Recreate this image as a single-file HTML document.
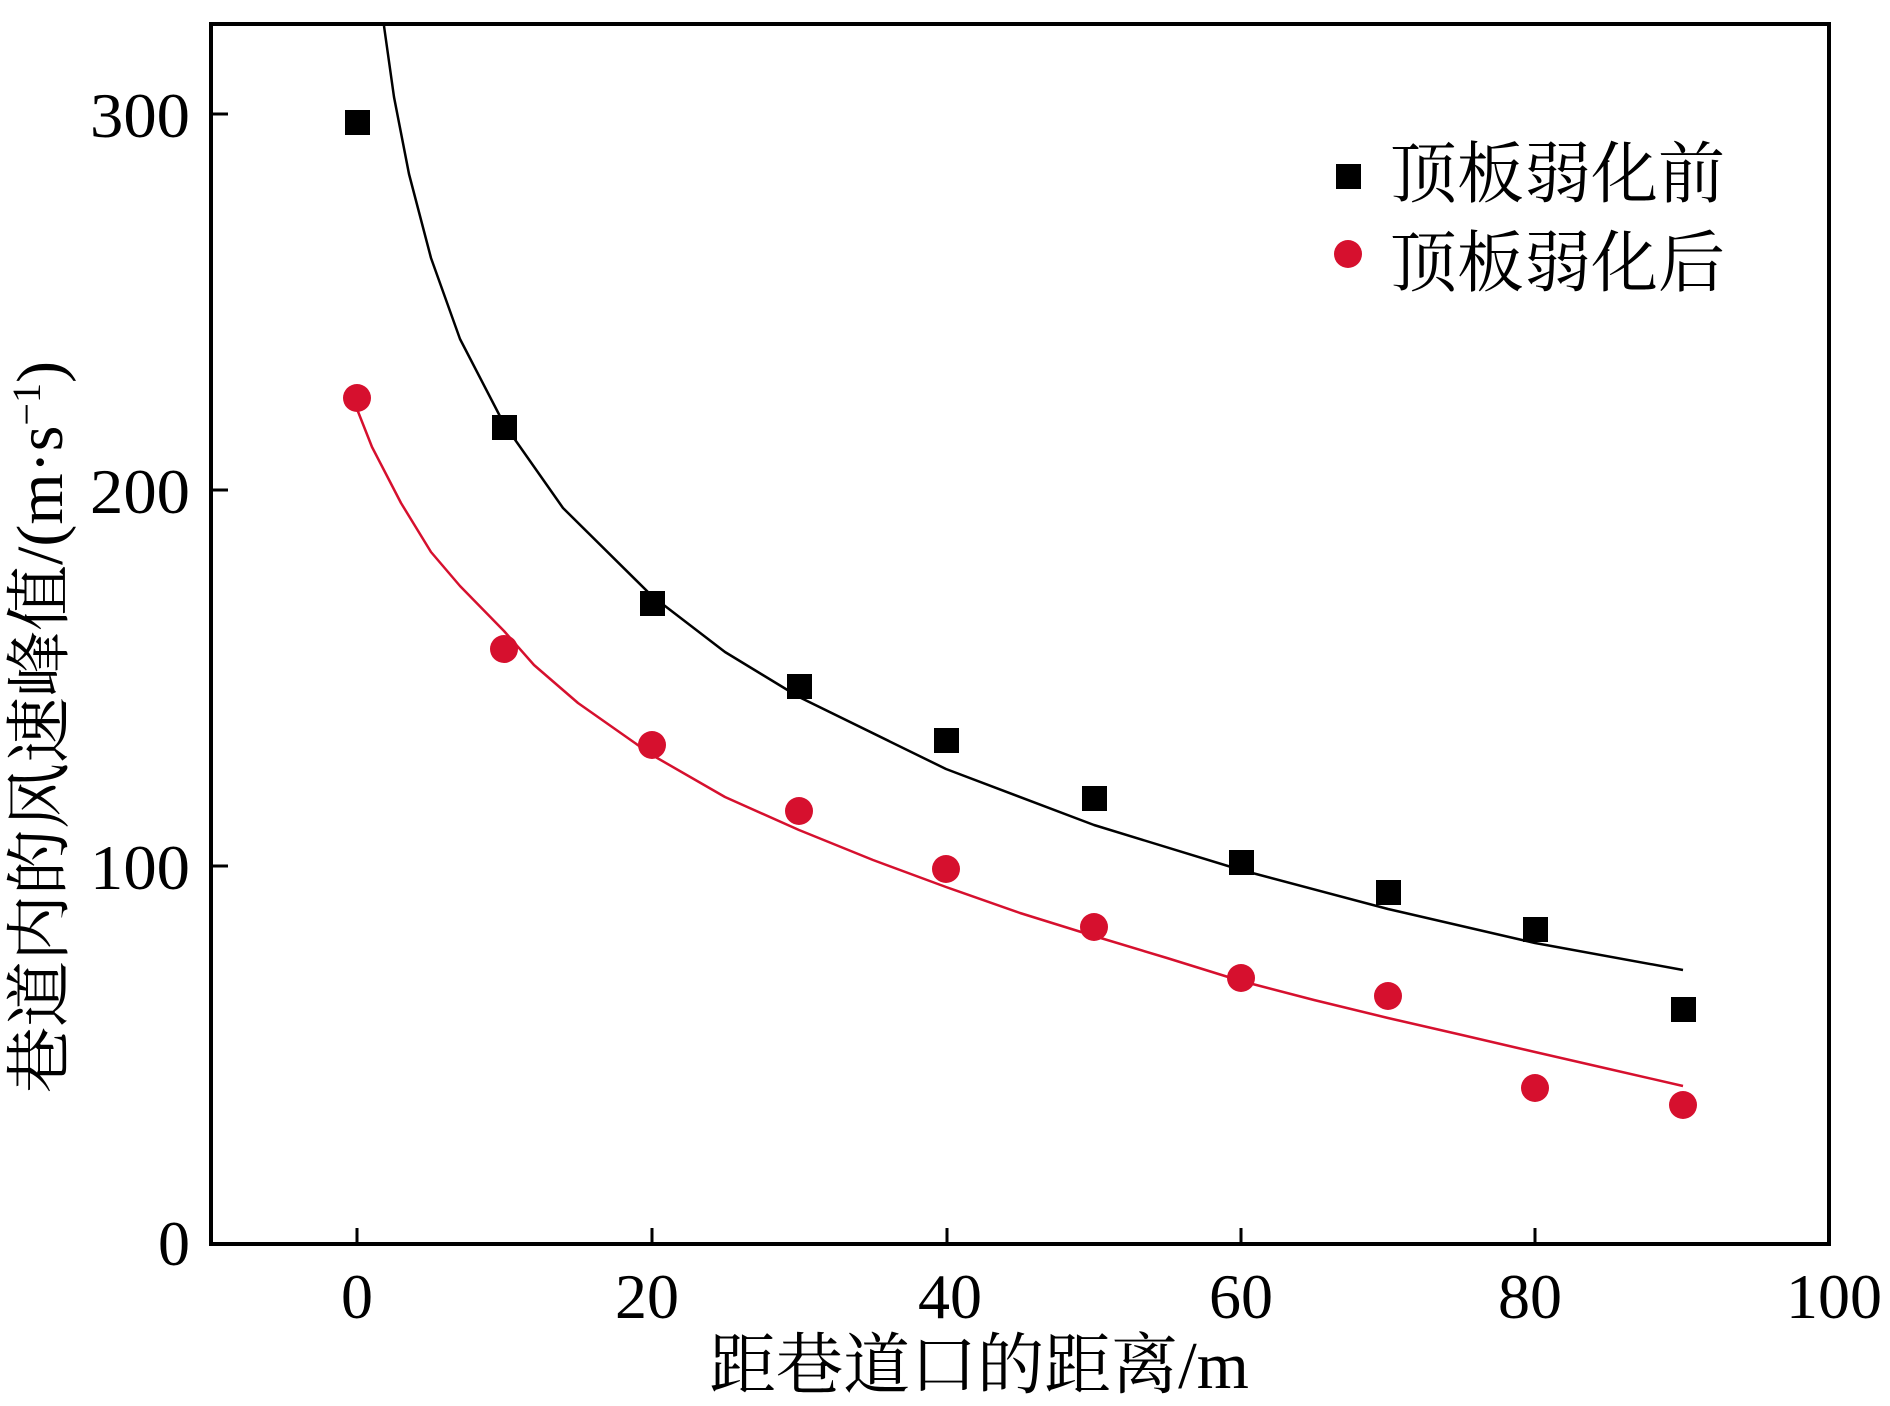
<!DOCTYPE html>
<html><head><meta charset="utf-8"><style>html,body{margin:0;padding:0;background:#fff}svg{display:block}</style></head>
<body>
<svg width="1890" height="1406" viewBox="0 0 1890 1406" xmlns="http://www.w3.org/2000/svg">
<rect x="211" y="24" width="1618" height="1220" fill="none" stroke="#000" stroke-width="4"/>
<g stroke="#000" stroke-width="3">
<line x1="357" y1="1244" x2="357" y2="1228"/><line x1="652" y1="1244" x2="652" y2="1228"/><line x1="947" y1="1244" x2="947" y2="1228"/><line x1="1241" y1="1244" x2="1241" y2="1228"/><line x1="1535" y1="1244" x2="1535" y2="1228"/>
<line x1="211" y1="114" x2="228" y2="114"/><line x1="211" y1="490" x2="228" y2="490"/><line x1="211" y1="866" x2="228" y2="866"/>
</g>
<g font-family="Liberation Serif, serif" font-size="64" fill="#000">
<text x="190" y="137" text-anchor="end" textLength="100" lengthAdjust="spacingAndGlyphs">300</text>
<text x="190" y="513" text-anchor="end" textLength="100" lengthAdjust="spacingAndGlyphs">200</text>
<text x="190" y="889" text-anchor="end" textLength="100" lengthAdjust="spacingAndGlyphs">100</text>
<text x="190" y="1265" text-anchor="end">0</text>
<g text-anchor="middle">
<text x="357" y="1318">0</text><text x="647" y="1318">20</text><text x="950" y="1318">40</text><text x="1241" y="1318">60</text><text x="1530" y="1318">80</text><text x="1834" y="1318">100</text>
</g></g>
<text x="979" y="1388" text-anchor="middle" font-family="Liberation Serif, 'Noto Serif CJK SC', serif" font-size="67">距巷道口的距离/m</text>
<text transform="translate(62,727) rotate(-90)" text-anchor="middle" font-family="Liberation Serif, 'Noto Serif CJK SC', serif" font-size="66">巷道内的风速峰值/(m·s<tspan dy="-22" font-size="40">−1</tspan><tspan dy="22">)</tspan></text>
<polyline fill="none" stroke="#000" stroke-width="2.5" stroke-linejoin="round" points="384,26 394,97 409,174 431,258 460,339 504,424 563,508 652,596 725,652 799,697 946,769 1094,825 1241,870 1388,909 1535,943 1683,970"/>
<polyline fill="none" stroke="#d6102e" stroke-width="2.5" stroke-linejoin="round" points="357,409 372,447 401,503 431,552 460,586 504,631 534,665 578,703 652,755 725,797 799,830 873,860 946,887 1020,913 1094,936 1167,958 1241,981 1314,1000 1388,1018 1462,1035 1535,1052 1609,1069 1683,1086"/>
<g fill="#000">
<rect x="345" y="110" width="25" height="25"/><rect x="492" y="415" width="25" height="25"/><rect x="640" y="591" width="25" height="25"/><rect x="787" y="674" width="25" height="25"/><rect x="934" y="728" width="25" height="25"/><rect x="1082" y="786" width="25" height="25"/><rect x="1229" y="850" width="25" height="25"/><rect x="1376" y="880" width="25" height="25"/><rect x="1523" y="917" width="25" height="25"/><rect x="1671" y="997" width="25" height="25"/>
<rect x="1336" y="164" width="25" height="25"/>
</g>
<g fill="#d6102e">
<circle cx="357" cy="398" r="14"/><circle cx="504" cy="649" r="14"/><circle cx="652" cy="745" r="14"/><circle cx="799" cy="811" r="14"/><circle cx="946" cy="869" r="14"/><circle cx="1094" cy="927" r="14"/><circle cx="1241" cy="978" r="14"/><circle cx="1388" cy="996" r="14"/><circle cx="1535" cy="1088" r="14"/><circle cx="1683" cy="1105" r="14"/>
<circle cx="1348" cy="254" r="14"/>
</g>
<g font-family="'Noto Serif CJK SC', serif" font-size="67" fill="#000">
<text x="1390" y="197">顶板弱化前</text>
<text x="1390" y="286">顶板弱化后</text>
</g>
</svg>
</body></html>
